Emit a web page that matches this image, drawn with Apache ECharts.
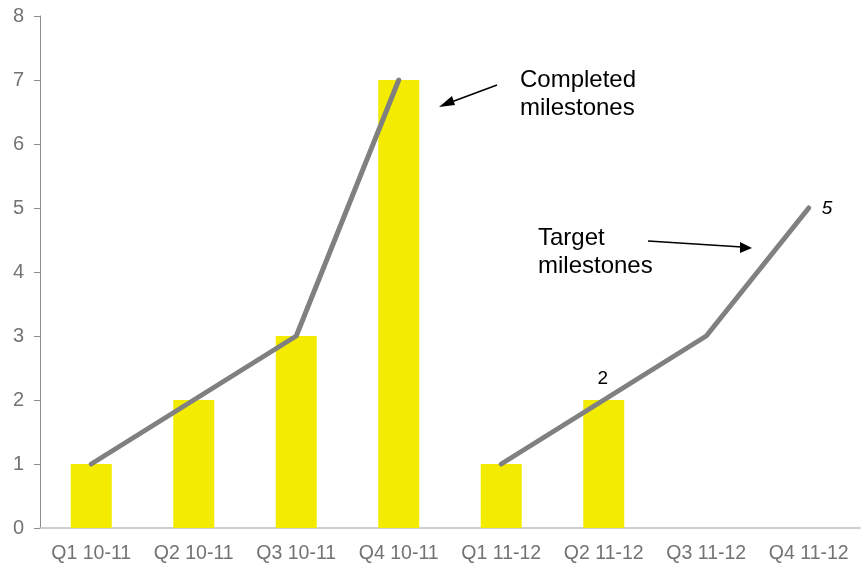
<!DOCTYPE html>
<html>
<head>
<meta charset="utf-8">
<script src="https://cdn.jsdelivr.net/npm/echarts@6/dist/echarts.min.js"></script>
<style>
  html, body { margin: 0; padding: 0; background: #fff; }
  #chart { width: 867px; height: 571px; }
</style>
</head>
<body>
<div id="chart"></div>
<script>
// Quarterly milestones: completed (bars) and the completed / target trend lines
var quarters = ['Q1 10-11', 'Q2 10-11', 'Q3 10-11', 'Q4 10-11', 'Q1 11-12', 'Q2 11-12', 'Q3 11-12', 'Q4 11-12'];
var completedBars = [1, 2, 3, 7, 1, 2, '-', '-'];
var completedLine = [1, 2, 3, 7, '-', '-', '-', '-'];
var targetLine = ['-', '-', '-', '-', 1, 2, 3, 5];
var yTicks = [0, 8, 1]; // min, max, interval

var chart = echarts.init(document.getElementById('chart'), null, { renderer: 'canvas' });
var font = '"Liberation Sans", Arial, sans-serif';

var option = {
  animation: false,
  grid: { left: 40, right: 7, top: 16, bottom: 43 },
  xAxis: {
    type: 'category',
    data: quarters,
    axisLine: { show: true, lineStyle: { color: '#bfbfbf', width: 1.5 } },
    axisTick: { show: false },
    axisLabel: { color: '#737373', fontFamily: font, fontSize: 19.5, margin: 16, interval: 0 }
  },
  yAxis: {
    type: 'value',
    min: yTicks[0], max: yTicks[1], interval: yTicks[2],
    axisLine: { show: true, lineStyle: { color: '#8c8c8c', width: 1 } },
    axisTick: { show: true, length: 6, lineStyle: { color: '#8c8c8c' } },
    axisLabel: { color: '#737373', fontFamily: font, fontSize: 20, margin: 16 },
    splitLine: { show: false }
  },
  series: [
    {
      type: 'bar',
      data: completedBars,
      barWidth: '40%',
      itemStyle: { color: '#f3ec00' },
      z: 1
    },
    {
      type: 'line',
      data: completedLine,
      symbol: 'none',
      lineStyle: { color: '#808080', width: 5, cap: 'round', join: 'round' },
      z: 3
    },
    {
      type: 'line',
      data: targetLine.map(function (v, i) {
        if (i === 5) return { value: v, label: { show: true, position: 'top', distance: 12, offset: [-1, 0], color: '#000', fontSize: 19, fontFamily: font } };
        if (i === 7) return { value: v, label: { show: true, position: 'right', distance: 13, offset: [0, 1], color: '#000', fontSize: 19, fontStyle: 'italic', fontFamily: font } };
        return v;
      }),
      symbol: 'circle',
      symbolSize: 0.1,
      lineStyle: { color: '#808080', width: 5, cap: 'round', join: 'round' },
      z: 3
    }
  ],
  graphic: [
    { type: 'text', left: 520, top: 66, style: { text: 'Completed\nmilestones', font: '24px ' + font, fill: '#000', lineHeight: 28 } },
    { type: 'line', shape: { x1: 497, y1: 85, x2: 446, y2: 104 }, style: { stroke: '#000', lineWidth: 1.5 } },
    { type: 'polygon', shape: { points: [[439, 107], [452, 96], [455, 105]] }, style: { fill: '#000' } },
    { type: 'text', left: 538, top: 224, style: { text: 'Target\nmilestones', font: '24px ' + font, fill: '#000', lineHeight: 28 } },
    { type: 'line', shape: { x1: 648, y1: 241, x2: 742, y2: 247 }, style: { stroke: '#000', lineWidth: 1.5 } },
    { type: 'polygon', shape: { points: [[752, 248], [740, 242], [740, 253]] }, style: { fill: '#000' } }
  ]
};
chart.setOption(option);
</script>
</body>
</html>
